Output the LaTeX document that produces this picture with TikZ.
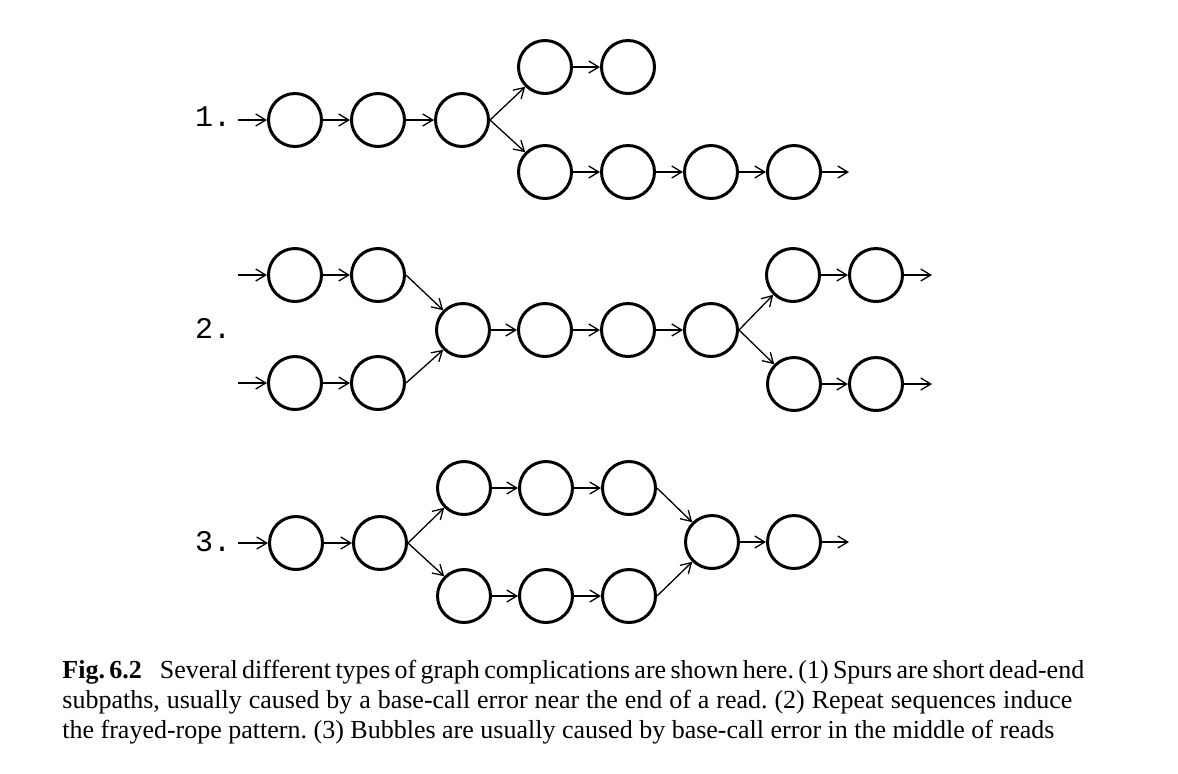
\documentclass[tikz,border=0pt]{standalone}
\usepackage{fontspec}
\setmainfont{Liberation Serif}
\newfontfamily\labelfont{Liberation Mono}
\usetikzlibrary{arrows.meta}
\frenchspacing
\tikzset{
  st/.style={circle,draw,line width=1.5pt,minimum size=26.5pt,inner sep=0pt},
  ar/.style={line width=0.65pt,-{Straight Barb[length=5pt,width=6pt]}},
  rowlabel/.style={anchor=base,inner sep=0pt,font=\labelfont\fontsize{15}{18}\selectfont},
  captext/.style={anchor=base west,inner sep=0pt,font=\fontsize{13}{15}\selectfont}
}
\begin{document}
\begin{tikzpicture}[x=0.5pt,y=-0.5pt]
\useasboundingbox (0,0) rectangle (1178,773);
% ---------- row 1: spur
\node[rowlabel] (l1) at (213,126) {1.};
\coordinate (ain) at (238,120);
\node[st] (a1) at (295,120) {};
\node[st] (a2) at (378,120) {};
\node[st] (a3) at (462,120) {};
\node[st] (a4) at (545,67) {};
\node[st] (a5) at (628,67) {};
\node[st] (a6) at (545,172) {};
\node[st] (a7) at (628,172) {};
\node[st] (a8) at (711,172) {};
\node[st] (a9) at (794,172) {};
\coordinate (aout) at (849,172);
\draw[ar] (ain) -- (a1);
\draw[ar] (a1) -- (a2);
\draw[ar] (a2) -- (a3);
\draw[ar] (a3.east) -- (a4.south west);
\draw[ar] (a3.east) -- (a6.north west);
\draw[ar] (a4) -- (a5);
\draw[ar] (a6) -- (a7);
\draw[ar] (a7) -- (a8);
\draw[ar] (a8) -- (a9);
\draw[ar] (a9) -- (aout);
% ---------- row 2: frayed rope
\node[rowlabel] (l2) at (213,338) {2.};
\coordinate (bin1) at (238,275);
\coordinate (bin2) at (238,383);
\node[st] (b1) at (295,275) {};
\node[st] (b2) at (378,275) {};
\node[st] (b3) at (295,383) {};
\node[st] (b4) at (378,383) {};
\node[st] (b5) at (463,330) {};
\node[st] (b6) at (545,330) {};
\node[st] (b7) at (628,330) {};
\node[st] (b8) at (711,330) {};
\node[st] (b9) at (793,275) {};
\node[st] (b10) at (876,275) {};
\node[st] (b11) at (794,384) {};
\node[st] (b12) at (876,384) {};
\coordinate (bout1) at (932,275);
\coordinate (bout2) at (932,384);
\draw[ar] (bin1) -- (b1);
\draw[ar] (b1) -- (b2);
\draw[ar] (bin2) -- (b3);
\draw[ar] (b3) -- (b4);
\draw[ar] (b2.east) -- (b5.north west);
\draw[ar] (b4.east) -- (b5.south west);
\draw[ar] (b5) -- (b6);
\draw[ar] (b6) -- (b7);
\draw[ar] (b7) -- (b8);
\draw[ar] (b8.east) -- (b9.south west);
\draw[ar] (b8.east) -- (b11.north west);
\draw[ar] (b9) -- (b10);
\draw[ar] (b11) -- (b12);
\draw[ar] (b10) -- (bout1);
\draw[ar] (b12) -- (bout2);
% ---------- row 3: bubble
\node[rowlabel] (l3) at (213,551) {3.};
\coordinate (cin) at (238,543);
\node[st] (c1) at (296,543) {};
\node[st] (c2) at (380,543) {};
\node[st] (c3) at (464,488) {};
\node[st] (c4) at (546,488) {};
\node[st] (c5) at (629,488) {};
\node[st] (c6) at (464,596) {};
\node[st] (c7) at (546,596) {};
\node[st] (c8) at (629,596) {};
\node[st] (c9) at (712,542) {};
\node[st] (c10) at (794,542) {};
\coordinate (cout) at (849,542);
\draw[ar] (cin) -- (c1);
\draw[ar] (c1) -- (c2);
\draw[ar] (c2.east) -- (c3.south west);
\draw[ar] (c2.east) -- (c6.north west);
\draw[ar] (c3) -- (c4);
\draw[ar] (c4) -- (c5);
\draw[ar] (c6) -- (c7);
\draw[ar] (c7) -- (c8);
\draw[ar] (c5.east) -- (c9.north west);
\draw[ar] (c8.east) -- (c9.south west);
\draw[ar] (c9) -- (c10);
\draw[ar] (c10) -- (cout);
% ---------- caption
\node[captext] (cap1) at (62,678) {\makebox[505pt][s]{\textbf{Fig. 6.2}\hspace{9pt}Several different types of graph complications are shown here. (1) Spurs are short dead-end}};
\node[captext] (cap2) at (62,708) {\makebox[505pt][s]{subpaths, usually caused by a base-call error near the end of a read. (2) Repeat sequences induce}};
\node[captext] (cap3) at (62,738) {the frayed-rope pattern. (3) Bubbles are usually caused by base-call error in the middle of reads};
\end{tikzpicture}
\end{document}
